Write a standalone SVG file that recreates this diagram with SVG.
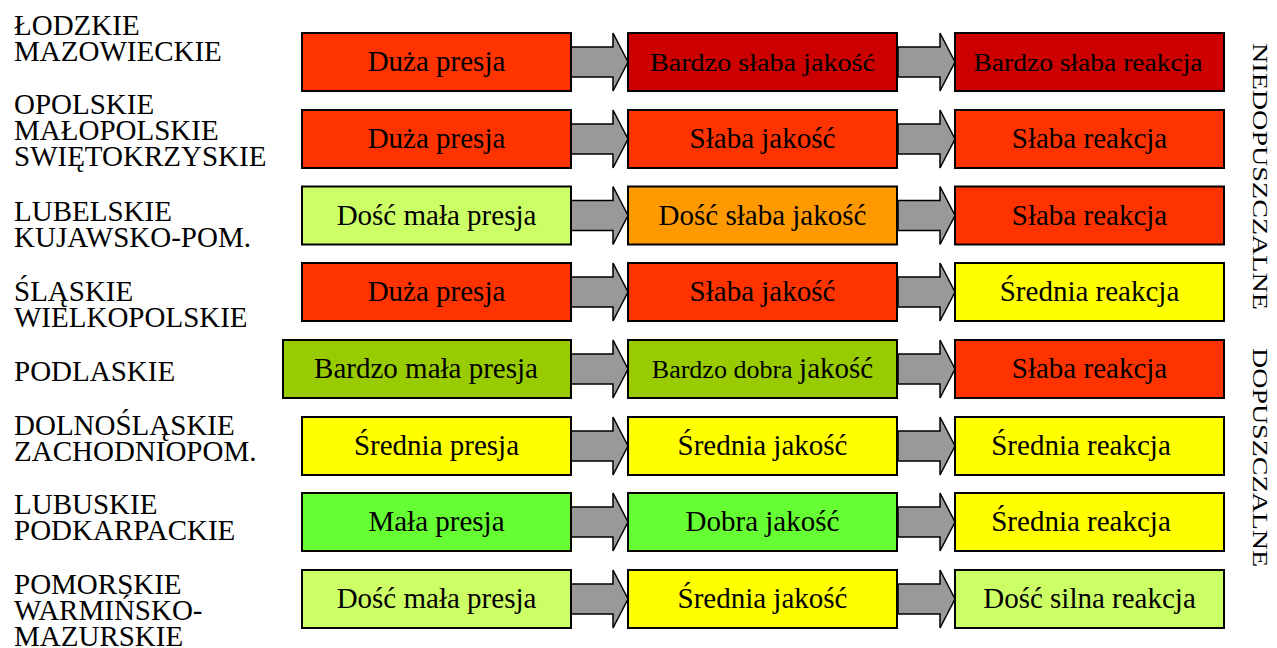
<svg xmlns="http://www.w3.org/2000/svg" width="1277" height="648" viewBox="0 0 1277 648">
<style>
text{font-family:"Liberation Serif","Times New Roman",serif;fill:#000}
.lbl{font-size:29px}
.bt{font-size:29px;text-anchor:middle}
.sm{font-size:26px}
.box{stroke:#000;stroke-width:2}
.arr{fill:#999999;stroke:#000;stroke-width:1.5;stroke-linejoin:miter}
.vt{font-size:21px}
.r1{fill:#CC0000}.r2{fill:#FF3300}.o{fill:#FF9900}.y{fill:#FFFF00}.lg{fill:#CCFF66}.g{fill:#66FF33}.dg{fill:#99CC00}
</style>
<rect width="1277" height="648" fill="#fff"/>
<defs>
<polygon id="ar" points="0,14 42,14 42,0 57,29 42,58 42,44 0,44"/>
</defs>

<g id="labels">
<g id="l1"><text class="lbl" x="14" y="35">ŁODZKIE</text><text class="lbl" x="14" y="61">MAZOWIECKIE</text></g>
<g id="l2"><text class="lbl" x="14" y="114">OPOLSKIE</text><text class="lbl" x="14" y="140">MAŁOPOLSKIE</text><text class="lbl" x="14" y="166">SWIĘTOKRZYSKIE</text></g>
<g id="l3"><text class="lbl" x="14" y="221">LUBELSKIE</text><text class="lbl" x="14" y="247">KUJAWSKO-POM.</text></g>
<g id="l4"><text class="lbl" x="14" y="301">ŚLĄSKIE</text><text class="lbl" x="14" y="327">WIELKOPOLSKIE</text></g>
<g id="l5"><text class="lbl" x="14" y="381">PODLASKIE</text></g>
<g id="l6"><text class="lbl" x="14" y="435">DOLNOŚLĄSKIE</text><text class="lbl" x="14" y="461">ZACHODNIOPOM.</text></g>
<g id="l7"><text class="lbl" x="14" y="514">LUBUSKIE</text><text class="lbl" x="14" y="540">PODKARPACKIE</text></g>
<g id="l8"><text class="lbl" x="14" y="594">POMORSKIE</text><text class="lbl" x="14" y="620">WARMIŃSKO-</text><text class="lbl" x="14" y="646">MAZURSKIE</text></g>
</g>

<g id="connectors">
<use href="#ar" class="arr" x="571" y="33"/><use href="#ar" class="arr" x="898" y="33"/>
<use href="#ar" class="arr" x="571" y="110"/><use href="#ar" class="arr" x="898" y="110"/>
<use href="#ar" class="arr" x="571" y="186.5"/><use href="#ar" class="arr" x="898" y="186.5"/>
<use href="#ar" class="arr" x="571" y="263"/><use href="#ar" class="arr" x="898" y="263"/>
<use href="#ar" class="arr" x="571" y="340"/><use href="#ar" class="arr" x="898" y="340"/>
<use href="#ar" class="arr" x="571" y="417"/><use href="#ar" class="arr" x="898" y="417"/>
<use href="#ar" class="arr" x="571" y="493"/><use href="#ar" class="arr" x="898" y="493"/>
<use href="#ar" class="arr" x="571" y="570"/><use href="#ar" class="arr" x="898" y="570"/>
</g>

<g id="row1">
<g id="n1a"><rect class="box r2" x="302" y="33" width="269" height="58"/><text class="bt" x="436.5" y="71">Duża presja</text></g>
<g id="n1b"><rect class="box r1" x="628" y="33" width="269" height="58"/><text class="bt sm" x="762.5" y="71" textLength="225" lengthAdjust="spacingAndGlyphs">Bardzo słaba jakość</text></g>
<g id="n1c"><rect class="box r1" x="955" y="33" width="269" height="58"/><text class="bt sm" x="1088" y="71" textLength="229" lengthAdjust="spacingAndGlyphs">Bardzo słaba reakcja</text></g>
</g>
<g id="row2">
<g id="n2a"><rect class="box r2" x="302" y="110" width="269" height="58"/><text class="bt" x="436.5" y="148">Duża presja</text></g>
<g id="n2b"><rect class="box r2" x="628" y="110" width="269" height="58"/><text class="bt" x="762.5" y="148">Słaba jakość</text></g>
<g id="n2c"><rect class="box r2" x="955" y="110" width="269" height="58"/><text class="bt" x="1089.5" y="148">Słaba reakcja</text></g>
</g>
<g id="row3">
<g id="n3a"><rect class="box lg" x="302" y="186.5" width="269" height="58"/><text class="bt" x="436.5" y="224.5">Dość mała presja</text></g>
<g id="n3b"><rect class="box o" x="628" y="186.5" width="269" height="58"/><text class="bt" x="762.5" y="224.5">Dość słaba jakość</text></g>
<g id="n3c"><rect class="box r2" x="955" y="186.5" width="269" height="58"/><text class="bt" x="1089.5" y="224.5">Słaba reakcja</text></g>
</g>
<g id="row4">
<g id="n4a"><rect class="box r2" x="302" y="263" width="269" height="58"/><text class="bt" x="436.5" y="301">Duża presja</text></g>
<g id="n4b"><rect class="box r2" x="628" y="263" width="269" height="58"/><text class="bt" x="762.5" y="301">Słaba jakość</text></g>
<g id="n4c"><rect class="box y" x="955" y="263" width="269" height="58"/><text class="bt" x="1089.5" y="301">Średnia reakcja</text></g>
</g>
<g id="row5">
<g id="n5a"><rect class="box dg" x="283" y="340" width="288" height="58"/><text class="bt" x="426" y="378">Bardzo mała presja</text></g>
<g id="n5b"><rect class="box dg" x="628" y="340" width="269" height="58"/><text class="bt" x="762.5" y="378"><tspan font-size="26">Bardzo dobra </tspan>jakość</text></g>
<g id="n5c"><rect class="box r2" x="955" y="340" width="269" height="58"/><text class="bt" x="1089.5" y="378">Słaba reakcja</text></g>
</g>
<g id="row6">
<g id="n6a"><rect class="box y" x="302" y="417" width="269" height="58"/><text class="bt" x="436.5" y="455">Średnia presja</text></g>
<g id="n6b"><rect class="box y" x="628" y="417" width="269" height="58"/><text class="bt" x="762.5" y="455">Średnia jakość</text></g>
<g id="n6c"><rect class="box y" x="955" y="417" width="269" height="58"/><text class="bt" x="1081" y="455">Średnia reakcja</text></g>
</g>
<g id="row7">
<g id="n7a"><rect class="box g" x="302" y="493" width="269" height="58"/><text class="bt" x="436.5" y="531">Mała presja</text></g>
<g id="n7b"><rect class="box g" x="628" y="493" width="269" height="58"/><text class="bt" x="762.5" y="531">Dobra jakość</text></g>
<g id="n7c"><rect class="box y" x="955" y="493" width="269" height="58"/><text class="bt" x="1081" y="531">Średnia reakcja</text></g>
</g>
<g id="row8">
<g id="n8a"><rect class="box lg" x="302" y="570" width="269" height="58"/><text class="bt" x="436.5" y="608">Dość mała presja</text></g>
<g id="n8b"><rect class="box y" x="628" y="570" width="269" height="58"/><text class="bt" x="762.5" y="608">Średnia jakość</text></g>
<g id="n8c"><rect class="box lg" x="955" y="570" width="269" height="58"/><text class="bt" x="1089.5" y="608">Dość silna reakcja</text></g>
</g>

<g id="side">
<text class="vt" transform="translate(1253,43) rotate(90)" textLength="267" lengthAdjust="spacingAndGlyphs">NIEDOPUSZCZALNE</text>
<text class="vt" transform="translate(1253,348) rotate(90)" textLength="219" lengthAdjust="spacingAndGlyphs">DOPUSZCZALNE</text>
</g>
</svg>
